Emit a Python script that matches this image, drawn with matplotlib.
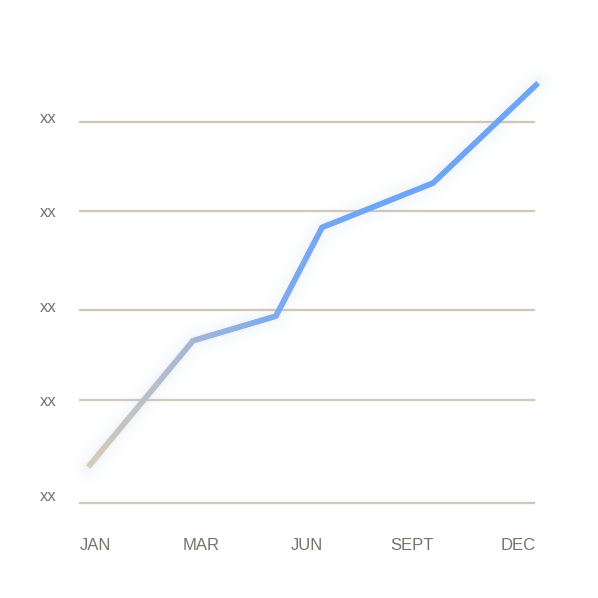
import numpy as np
import matplotlib
matplotlib.use('Agg')
import matplotlib.pyplot as plt
from matplotlib.collections import LineCollection
from matplotlib.colors import LinearSegmentedColormap

# tick labels
months = ['JAN', 'MAR', 'JUN', 'SEPT', 'DEC']
month_pos = [0, 1, 2, 3, 4]
ylabels = ['xx', 'xx', 'xx', 'xx', 'xx']
ylabel_pos = [0.09, 1.09, 2.09, 3.09, 4.09]
grid_vals = [0.0, 1.095, 2.05, 3.095, 4.04]

# line series
line_x = [-0.066, 0.927, 1.71, 2.147, 3.196, 4.19]
line_y = [0.38, 1.72, 1.98, 2.92, 3.39, 4.45]

beige = '#d8ccb8'
blue = '#6ea5f4'
grid_col = '#d3c7b7'
text_col = '#7a726a'

fig = plt.figure(figsize=(5.98, 5.98), dpi=100)
ax = fig.add_axes([80 / 598, 95 / 598, 454 / 598, 386 / 598])
ax.set_xlim(-0.142, 4.151)
ax.set_ylim(0, 4.06)
for s in ax.spines.values():
    s.set_visible(False)

for g in grid_vals:
    ax.axhline(g, color=grid_col, lw=1.6, zorder=1, clip_on=False)

# soft glow
for w, a in [(26, 0.015), (19, 0.025), (13, 0.035), (8, 0.05)]:
    ax.plot(line_x, line_y, color='#a9c6f5', lw=w, alpha=a,
            solid_capstyle='round', solid_joinstyle='round', clip_on=False, zorder=2)

# gradient line: split each segment into pieces for the colour ramp
pts = []
for i in range(len(line_x) - 1):
    xs = np.linspace(line_x[i], line_x[i + 1], 40, endpoint=False)
    ys = np.linspace(line_y[i], line_y[i + 1], 40, endpoint=False)
    pts += list(zip(xs, ys))
pts.append((line_x[-1], line_y[-1]))
pts = np.array(pts)
segs = np.stack([pts[:-1], pts[1:]], axis=1)
mid_x = (segs[:, 0, 0] + segs[:, 1, 0]) / 2
t = np.clip((mid_x - line_x[0]) / 2.6, 0, 1)
cmap = LinearSegmentedColormap.from_list('bb', [beige, '#aab9cf', '#7eabef', blue])
cols = cmap(t)
inner = LineCollection(segs[1:-1], colors=cols[1:-1], linewidths=4.0, capstyle='round',
                       joinstyle='round', clip_on=False, zorder=3)
ax.add_collection(inner)
ends = LineCollection([segs[0], segs[-1]], colors=[cols[0], cols[-1]], linewidths=4.0,
                      capstyle='butt', clip_on=False, zorder=3)
ax.add_collection(ends)

ax.set_xticks(month_pos)
ax.set_xticklabels(months)
ax.set_yticks(ylabel_pos)
ax.set_yticklabels(ylabels)
ax.tick_params(axis='x', length=0, pad=25.5, labelsize=12, labelcolor=text_col)
ax.tick_params(axis='y', length=0, pad=17, labelsize=12, labelcolor=text_col)
for lab in ax.get_xticklabels() + ax.get_yticklabels():
    lab.set_fontfamily('Liberation Sans')

fig.savefig('out.png', dpi=100)
